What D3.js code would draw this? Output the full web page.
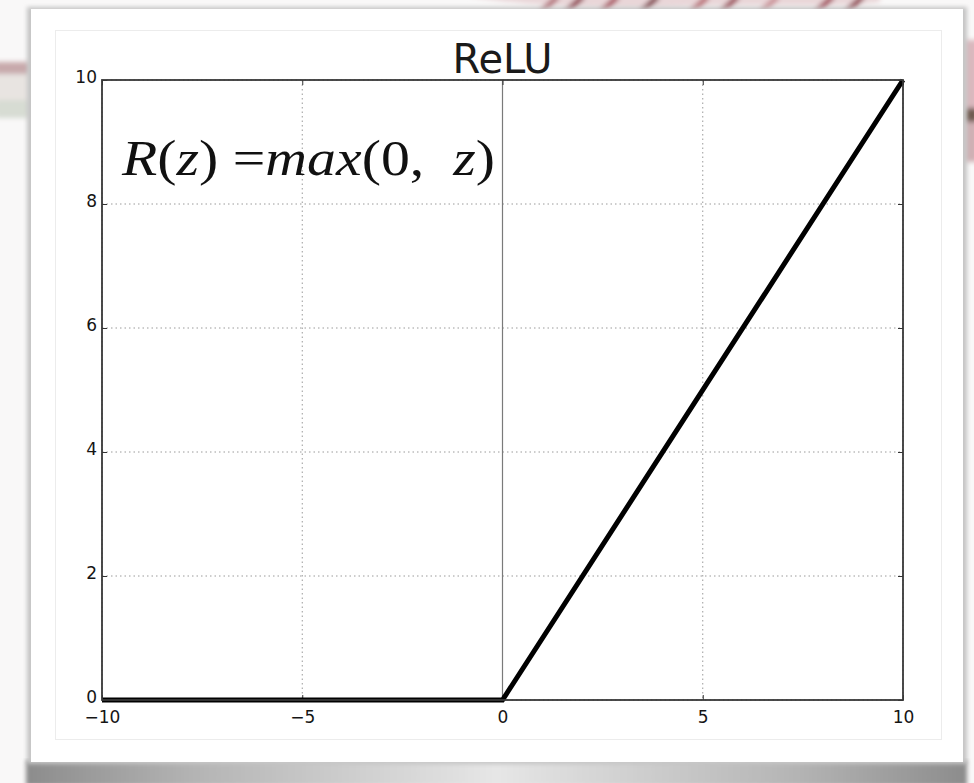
<!DOCTYPE html>
<html>
<head>
<meta charset="utf-8">
<script src="https://cdn.jsdelivr.net/npm/d3@7"></script>
<style>
  html, body { margin: 0; padding: 0; background: #f8f7f7; overflow: hidden; }
  svg { display: block; }
</style>
</head>
<body>
<svg id="chart" width="974" height="783"></svg>
<script>
// ReLU breakpoints: R(z) = max(0, z) on [-10, 10]
const zValues = [-10, 0, 10];
const reluValues = [0, 0, 10];
const xTickValues = [-10, -5, 0, 5, 10];
const yTickValues = [0, 2, 4, 6, 8, 10];
const titleText = "ReLU";

const W = 974, H = 783;
const plot = { left: 102, right: 903, top: 80, bottom: 700 };

const svg = d3.select("#chart");
const defs = svg.append("defs");

defs.append("filter").attr("id", "soft").attr("x", "-20%").attr("y", "-50%")
  .attr("width", "140%").attr("height", "200%")
  .append("feGaussianBlur").attr("stdDeviation", 2.5);
defs.append("filter").attr("id", "edge").attr("x", "-5%").attr("y", "-5%")
  .attr("width", "110%").attr("height", "110%")
  .append("feGaussianBlur").attr("stdDeviation", 2);

// shadow under the card: darker at both ends, lighter in the middle
const shGrad = defs.append("linearGradient").attr("id", "shadowGrad")
  .attr("x1", "0").attr("x2", "1").attr("y1", "0").attr("y2", "0");
[["0%", "#8c8c8c"], ["18%", "#b4b4b4"], ["50%", "#e6e6e6"], ["82%", "#b4b4b4"], ["100%", "#8c8c8c"]]
  .forEach(([o, c]) => shGrad.append("stop").attr("offset", o).attr("stop-color", c));

// page backdrop
svg.append("rect").attr("width", W).attr("height", H).attr("fill", "#f9f8f8");

// pencil sketch peeking around the card
const sketch = svg.append("g").attr("filter", "url(#soft)");
sketch.append("path")
  .attr("d", "M470,-4 C520,6 600,10 700,6 C780,4 840,8 880,2 L880,-6 L470,-6 Z")
  .attr("fill", "#e9d6d8");
[[540, "#b27078"], [565, "#8e3e4a"], [600, "#a8505c"], [640, "#7d3a42"], [690, "#b86a72"],
 [720, "#9a4a54"], [760, "#c98e94"], [815, "#a14c58"], [845, "#8f4450"]].forEach(([x, c]) => {
  sketch.append("path")
    .attr("d", `M${x},14 L${x + 18},-4`)
    .attr("stroke", c).attr("stroke-width", 6).attr("fill", "none");
});
sketch.append("rect").attr("x", -5).attr("y", 62).attr("width", 35).attr("height", 12).attr("fill", "#c7a9ab");
sketch.append("rect").attr("x", -5).attr("y", 74).attr("width", 35).attr("height", 34).attr("fill", "#e8e4e1");
sketch.append("rect").attr("x", -5).attr("y", 100).attr("width", 35).attr("height", 18).attr("fill", "#d7dcd3");
sketch.append("rect").attr("x", 964).attr("y", 40).attr("width", 14).attr("height", 70).attr("fill", "#d9b8bd");
sketch.append("rect").attr("x", 964).attr("y", 108).attr("width", 14).attr("height", 14).attr("fill", "#6f5a4f");
sketch.append("rect").attr("x", 964).attr("y", 122).attr("width", 14).attr("height", 40).attr("fill", "#cfb0b4");

// card shadow and card
svg.append("rect").attr("x", 26).attr("y", 760).attr("width", 941).attr("height", 26)
  .attr("fill", "url(#shadowGrad)").attr("filter", "url(#edge)");
svg.append("rect").attr("x", 27).attr("y", 7).attr("width", 940).attr("height", 757)
  .attr("fill", "#c4c4c4").attr("filter", "url(#edge)");
svg.append("rect").attr("x", 31).attr("y", 9).attr("width", 932).attr("height", 753)
  .attr("fill", "#ffffff");

// faint figure frame
svg.append("rect").attr("x", 55.5).attr("y", 30.5).attr("width", 886).attr("height", 709)
  .attr("fill", "none").attr("stroke", "#ececec").attr("stroke-width", 1);

const x = d3.scaleLinear().domain([-10, 10]).range([plot.left, plot.right]);
const y = d3.scaleLinear().domain([0, 10]).range([plot.bottom, plot.top]);

// dotted grid
const grid = svg.append("g").attr("stroke", "#9a9a9a").attr("stroke-width", 1)
  .attr("stroke-dasharray", "1.5,3");
grid.selectAll("line.vx").data(xTickValues).join("line")
  .attr("x1", d => x(d)).attr("x2", d => x(d)).attr("y1", plot.top).attr("y2", plot.bottom);
grid.selectAll("line.hy").data(yTickValues).join("line")
  .attr("y1", d => y(d)).attr("y2", d => y(d)).attr("x1", plot.left).attr("x2", plot.right);

// vertical reference line at z = 0
svg.append("line").attr("x1", x(0)).attr("x2", x(0)).attr("y1", plot.top).attr("y2", plot.bottom)
  .attr("stroke", "#7a7a7a").attr("stroke-width", 1.2);

// axes with inward ticks
const fmt = d3.format("d");
const axB = svg.append("g").attr("transform", `translate(0,${plot.bottom})`)
  .call(d3.axisBottom(x).tickValues(xTickValues).tickFormat(fmt).tickSize(-5).tickPadding(11));
const axT = svg.append("g").attr("transform", `translate(0,${plot.top})`)
  .call(d3.axisTop(x).tickValues(xTickValues).tickFormat("").tickSize(-5));
const axL = svg.append("g").attr("transform", `translate(${plot.left},0)`)
  .call(d3.axisLeft(y).tickValues(yTickValues).tickFormat(fmt).tickSize(-5).tickPadding(5));
const axR = svg.append("g").attr("transform", `translate(${plot.right},0)`)
  .call(d3.axisRight(y).tickValues(yTickValues).tickFormat("").tickSize(-5));

[axB, axT, axL, axR].forEach(g => {
  g.select(".domain").remove();
  g.selectAll(".tick line").attr("stroke", "#333").attr("stroke-width", 1);
  g.selectAll(".tick text")
    .attr("font-family", "DejaVu Sans, sans-serif")
    .attr("font-size", 17).attr("fill", "#151515");
});
// y labels sit a little above their ticks
axL.selectAll(".tick text").attr("y", -3);

// the ReLU curve
const line = d3.line().x((d, i) => x(zValues[i])).y(d => y(d));
svg.append("path").datum(reluValues)
  .attr("d", line)
  .attr("fill", "none").attr("stroke", "#000").attr("stroke-width", 5)
  .attr("stroke-linejoin", "miter").attr("stroke-linecap", "butt");

// axes frame
svg.append("rect")
  .attr("x", plot.left).attr("y", plot.top)
  .attr("width", plot.right - plot.left).attr("height", plot.bottom - plot.top)
  .attr("fill", "none").attr("stroke", "#383838").attr("stroke-width", 1.8);

// title
svg.append("text")
  .attr("x", (plot.left + plot.right) / 2).attr("y", 73)
  .attr("text-anchor", "middle")
  .attr("font-family", "DejaVu Sans, sans-serif").attr("font-size", 40)
  .attr("fill", "#1a1a1a")
  .text(titleText);

// formula label
const formula = svg.append("text")
  .attr("x", 0).attr("y", 0)
  .attr("font-family", "Liberation Serif, serif").attr("font-size", 50)
  .attr("fill", "#111")
  .attr("xml:space", "preserve");
[["R", true], ["(", false], ["z", true], [")", false], [" =", false], ["max", true],
 ["(0,", false], ["  ", false], ["z", true], [")", false]].forEach(([t, it]) => {
  formula.append("tspan").attr("font-style", it ? "italic" : "normal").text(t);
});
const fLen = formula.node().getComputedTextLength();
formula.attr("transform", `translate(122,175) scale(${373 / fLen},1)`);
</script>
</body>
</html>
